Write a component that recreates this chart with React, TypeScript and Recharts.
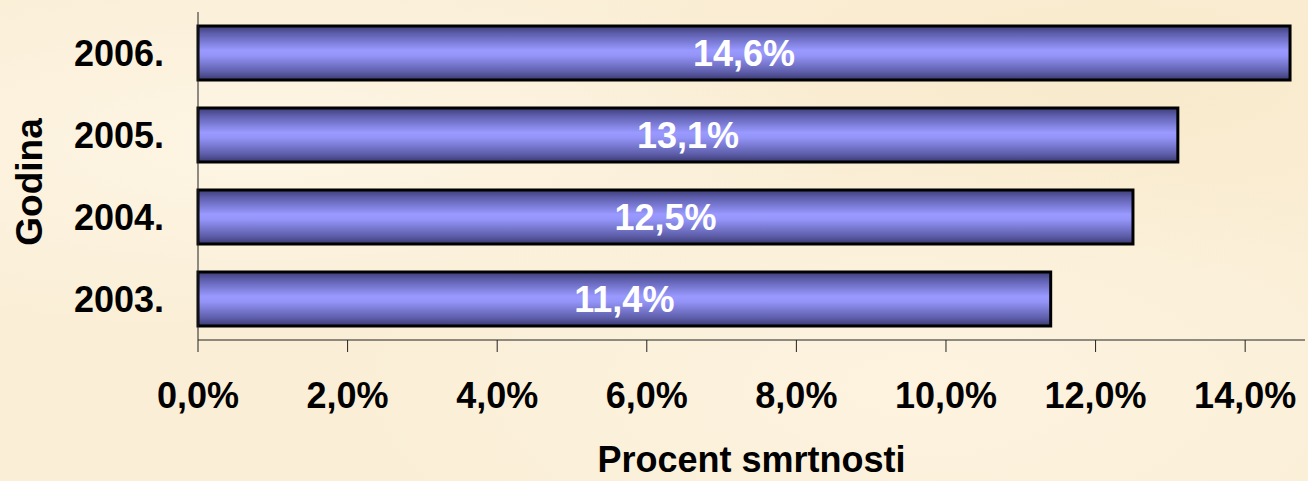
import React from 'react';
import { BarChart, Bar, XAxis, YAxis, LabelList } from 'recharts';

const years = ['2006.', '2005.', '2004.', '2003.'];
const mortality = [14.6, 13.1, 12.5, 11.4];
const xTicks = [0, 2, 4, 6, 8, 10, 12, 14];
const xTitle = 'Procent smrtnosti';
const yTitle = 'Godina';

const data = years.map((y, i) => ({ year: y, value: mortality[i] }));

const FONT = '"Liberation Sans", Arial, Helvetica, sans-serif';
const fmt = (v: number) => v.toFixed(1).replace('.', ',') + '%';

const YTitle = (props: any) => {
  const vb = props.viewBox || { x: 0, y: 12, width: 198, height: 328 };
  const cx = vb.x + 29;
  const cy = vb.y + vb.height / 2 + 6;
  return (
    <text
      x={cx}
      y={cy}
      transform={`rotate(-90 ${cx} ${cy})`}
      textAnchor="middle"
      dominantBaseline="central"
      fontFamily={FONT}
      fontWeight="bold"
      fontSize={37}
      fill="#000"
    >
      {yTitle}
    </text>
  );
};

export default function App() {
  return (
    <div
      style={{
        position: 'fixed',
        left: 0,
        top: 0,
        width: 1308,
        height: 481,
        overflow: 'hidden',
        background:
          'radial-gradient(ellipse at 20% 30%, #fdf5e4 0%, rgba(253,245,228,0) 40%), radial-gradient(ellipse at 70% 80%, #fdf3df 0%, rgba(253,243,223,0) 45%), radial-gradient(ellipse at 85% 15%, #f8eacb 0%, rgba(248,234,203,0) 35%), #faeed6',
      }}
    >
      <BarChart
        width={1308}
        height={481}
        data={data}
        layout="vertical"
        margin={{ top: 12, right: 3, bottom: 0, left: 0 }}
        barSize={54}
      >
        <defs>
          <linearGradient id="barGrad" x1="0" y1="0" x2="0" y2="1">
            <stop offset="0%" stopColor="#3d3d78" />
            <stop offset="15%" stopColor="#6060b0" />
            <stop offset="45%" stopColor="#9999ff" />
            <stop offset="55%" stopColor="#9494f8" />
            <stop offset="85%" stopColor="#5e5eaa" />
            <stop offset="100%" stopColor="#3a3a72" />
          </linearGradient>
        </defs>
        <XAxis
          type="number"
          domain={[0, 14.8]}
          ticks={xTicks}
          interval={0}
          tickFormatter={fmt}
          height={141}
          tickSize={12}
          tickMargin={30}
          stroke="#222"
          axisLine={{ stroke: '#222', strokeWidth: 1 }}
          tickLine={{ stroke: '#222', strokeWidth: 1 }}
          tick={{ fill: '#000', fontSize: 36, fontWeight: 'bold', fontFamily: FONT }}
          label={{
            value: xTitle,
            position: 'insideBottom',
            offset: 9,
            fill: '#000',
            fontSize: 36,
            fontWeight: 'bold',
            fontFamily: FONT,
          }}
        />
        <YAxis
          type="category"
          dataKey="year"
          width={198}
          tickLine={false}
          tickSize={0}
          tickMargin={34}
          axisLine={{ stroke: '#222', strokeWidth: 1 }}
          tick={{ fill: '#000', fontSize: 36, fontWeight: 'bold', fontFamily: FONT }}
          label={<YTitle />}
        />
        <Bar
          dataKey="value"
          fill="url(#barGrad)"
          stroke="#000"
          strokeWidth={3}
          isAnimationActive={false}
        >
          <LabelList
            dataKey="value"
            position="center"
            formatter={(v: any) => fmt(Number(v))}
            fill="#fff"
            fontSize={36}
            fontWeight="bold"
            fontFamily={FONT}
          />
        </Bar>
      </BarChart>
    </div>
  );
}
